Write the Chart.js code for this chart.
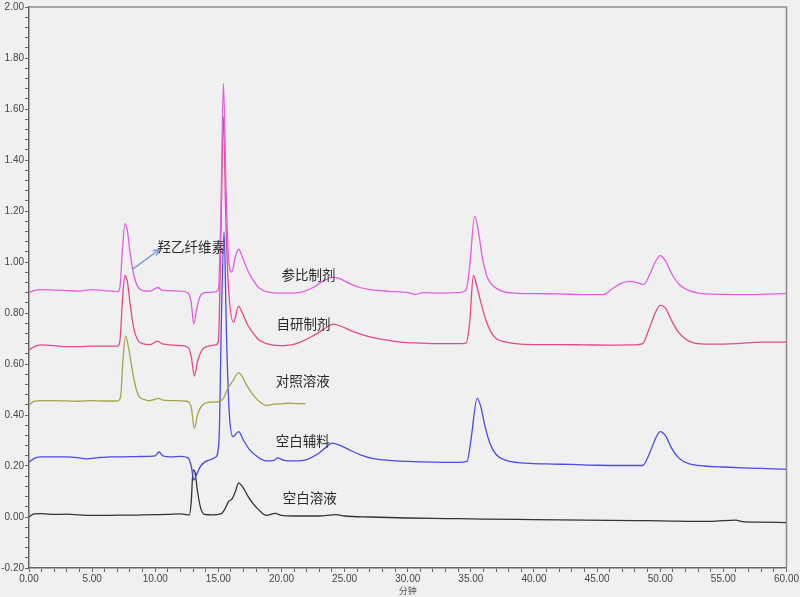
<!DOCTYPE html>
<html><head><meta charset="utf-8">
<script src="https://cdn.jsdelivr.net/npm/chart.js@4.4.1/dist/chart.umd.min.js"></script>
<style>html,body{margin:0;padding:0;background:#f0f0f0;} canvas{display:block;}</style>
</head><body>
<canvas id="c" width="800" height="597"></canvas>
<script>
// ---- data (minutes, response) ----
const seriesNames = ['参比制剂', '自研制剂', '对照溶液', '空白辅料', '空白溶液'];

const refT = [0,0.4,1,2,3,4,5,6,7,7.2,7.4,7.6,7.8,8.0,8.3,8.6,9.0,9.6,10.2,10.5,11,12,12.6,12.85,13.05,13.3,13.6,14,14.6,15.0,15.2,15.4,15.6,15.8,16.05,16.35,16.6,16.9,17.3,17.8,18.3,19,20,21,21.8,22.5,23.2,24.0,24.6,25.4,26.2,27,28.5,30,30.6,31.2,32.5,34,34.6,34.9,35.3,35.6,35.9,36.3,36.8,37.5,38.5,40,42,44,45.5,46.2,47.0,47.6,48.2,48.7,49.2,49.6,50.0,50.4,50.9,51.5,52.2,53,55,57,59,60];
const refV = [0.880,0.888,0.892,0.890,0.888,0.886,0.892,0.888,0.884,0.90,1.05,1.15,1.12,1.04,0.95,0.905,0.888,0.886,0.900,0.890,0.888,0.886,0.878,0.84,0.757,0.82,0.870,0.880,0.882,0.890,1.20,1.70,1.30,1.02,0.96,1.02,1.05,1.02,0.97,0.925,0.895,0.882,0.878,0.878,0.885,0.900,0.922,0.940,0.935,0.915,0.900,0.892,0.885,0.880,0.873,0.880,0.878,0.880,0.888,0.98,1.18,1.12,1.02,0.94,0.905,0.885,0.878,0.876,0.875,0.872,0.872,0.895,0.918,0.924,0.918,0.912,0.955,1.000,1.025,1.005,0.955,0.912,0.890,0.878,0.873,0.872,0.875,0.877];

const selfT = [0,0.5,1,2,3,4,5,6,7.0,7.2,7.4,7.6,7.8,8.0,8.3,8.6,9.0,9.6,10.2,10.5,11,12,12.6,12.85,13.1,13.35,13.7,14.2,14.8,15.0,15.2,15.4,15.6,15.8,16.2,16.6,16.9,17.3,17.7,18.2,18.8,19.9,20.8,21.5,22.3,23.0,23.6,24.1,24.7,25.4,26.2,27.0,28.2,29.4,31,32.6,34,34.6,34.9,35.2,35.5,35.8,36.2,36.6,37.0,37.6,38.5,40,42,44,46,48,48.6,49.1,49.6,50.0,50.4,50.9,51.4,52.0,52.7,54,56,58,60];
const selfV = [0.655,0.670,0.675,0.672,0.668,0.668,0.670,0.670,0.670,0.69,0.85,0.947,0.92,0.84,0.74,0.695,0.680,0.676,0.690,0.680,0.676,0.672,0.665,0.63,0.553,0.61,0.655,0.670,0.675,0.690,1.10,1.57,1.15,0.90,0.764,0.826,0.80,0.755,0.725,0.695,0.680,0.672,0.675,0.686,0.705,0.725,0.745,0.756,0.748,0.733,0.718,0.706,0.695,0.686,0.682,0.680,0.680,0.682,0.76,0.947,0.90,0.84,0.77,0.725,0.700,0.688,0.680,0.676,0.676,0.675,0.674,0.675,0.680,0.735,0.800,0.830,0.820,0.770,0.728,0.698,0.682,0.678,0.680,0.686,0.686];

const ctrlT = [0,0.4,1,2,3,4,5,6,7.0,7.25,7.45,7.65,7.9,8.2,8.5,8.75,9.2,9.5,10.3,10.6,11.5,12.5,12.85,13.1,13.35,13.75,14.3,15.0,15.4,15.7,16.1,16.6,16.9,17.2,17.6,18.0,18.4,18.8,19.3,19.9,20.5,21.2,21.9];
const ctrlV = [0.440,0.453,0.456,0.456,0.455,0.454,0.456,0.455,0.455,0.47,0.62,0.710,0.66,0.570,0.50,0.470,0.460,0.456,0.465,0.458,0.456,0.454,0.43,0.347,0.40,0.440,0.450,0.452,0.465,0.500,0.530,0.565,0.55,0.520,0.490,0.464,0.447,0.437,0.442,0.444,0.446,0.445,0.445];

const blankExT = [0,0.5,1,2,3,4,4.6,5.5,6.5,7.5,8.5,9.5,10.0,10.3,10.6,11.2,12.0,12.6,12.85,13.05,13.3,13.6,14.2,14.8,15.05,15.25,15.45,15.65,15.85,16.15,16.6,17.0,17.5,18.0,18.8,19.4,19.7,20.2,21,22,22.8,23.5,24.0,24.6,25.3,26.2,27.2,28.5,30,32,34,34.7,35.0,35.5,35.8,36.1,36.5,37.0,37.8,39,41,43,45,47,48.6,49.2,49.6,50.0,50.4,50.9,51.5,52.3,53.5,55,57,59,60];
const blankExV = [0.215,0.232,0.236,0.236,0.236,0.232,0.228,0.233,0.236,0.236,0.237,0.238,0.240,0.255,0.240,0.236,0.238,0.232,0.20,0.145,0.17,0.200,0.222,0.235,0.30,0.80,1.12,0.70,0.42,0.315,0.335,0.300,0.262,0.240,0.220,0.222,0.232,0.222,0.220,0.225,0.245,0.272,0.290,0.282,0.265,0.245,0.230,0.222,0.218,0.215,0.214,0.218,0.30,0.465,0.43,0.36,0.29,0.245,0.222,0.212,0.208,0.206,0.203,0.202,0.202,0.255,0.305,0.335,0.320,0.270,0.230,0.208,0.200,0.196,0.192,0.189,0.187];

const blankT = [0,0.4,1,2,3,4,5,6,7,8,9,10,11,12,12.7,12.85,13.0,13.15,13.35,13.6,13.9,14.5,15.2,15.5,15.8,16.1,16.35,16.6,16.9,17.3,17.7,18.2,18.8,19.5,20.0,21,22,23,24.3,25,27,30,33,36,40,44,48,50,54,56,56.5,58,60];
const blankV = [0.000,0.012,0.013,0.010,0.011,0.008,0.006,0.006,0.007,0.007,0.008,0.009,0.010,0.012,0.008,0.060,0.185,0.175,0.100,0.035,0.010,0.008,0.012,0.030,0.060,0.072,0.100,0.133,0.120,0.085,0.055,0.028,0.006,0.014,0.006,0.004,0.004,0.004,0.009,0.004,0.000,-0.004,-0.006,-0.008,-0.010,-0.012,-0.014,-0.015,-0.017,-0.012,-0.018,-0.020,-0.022];

const xMajorStep = 5, xMinorStep = 1, xMin = 0, xMax = 60;
const yMin = -0.2, yMax = 2.0, yMinorStep = 0.04, yMinorPerMajor = 5;

// ---- styles / annotations (not data) ----
const colors = ['#e45ce4', '#e3488a', '#a5a54c', '#4b4be3', '#333333'];
const annotations = [
  {text: '参比制剂', t: 20.0, v: 0.951},
  {text: '自研制剂', t: 19.6, v: 0.756},
  {text: '对照溶液', t: 19.55, v: 0.534},
  {text: '空白辅料', t: 19.55, v: 0.300},
  {text: '空白溶液', t: 20.1, v: 0.074},
  {text: '羟乙纤维素', t: 10.17, v: 1.060}
];
const arrow = {t0: 8.19, v0: 0.971, t1: 10.33, v1: 1.049};

function pts(T, V) { return T.map((t, i) => ({x: t, y: V[i]})); }
const seriesData = [pts(refT, refV), pts(selfT, selfV), pts(ctrlT, ctrlV), pts(blankExT, blankExV), pts(blankT, blankV)];

const datasets = seriesNames.map((n, i) => ({
  label: n, data: seriesData[i], borderColor: colors[i], borderWidth: 1.3,
  pointRadius: 0, fill: false, cubicInterpolationMode: 'monotone'
}));

const framePlugin = {
  id: 'frame',
  afterDraw(chart) {
    const {ctx, chartArea: a, scales} = chart;
    ctx.save();
    ctx.strokeStyle = '#8a8a8a'; ctx.lineWidth = 1.5;
    ctx.beginPath();
    ctx.moveTo(a.left, a.top); ctx.lineTo(a.right, a.top); ctx.lineTo(a.right, a.bottom);
    ctx.stroke();
    // labels
    ctx.fillStyle = '#2a2a2a';
    ctx.font = '13.5px "Noto Sans CJK SC"';
    ctx.textBaseline = 'middle'; ctx.textAlign = 'left';
    annotations.forEach(an => {
      ctx.fillText(an.text, scales.x.getPixelForValue(an.t), scales.y.getPixelForValue(an.v));
    });
    // arrow
    const x0 = scales.x.getPixelForValue(arrow.t0), y0 = scales.y.getPixelForValue(arrow.v0);
    const x1 = scales.x.getPixelForValue(arrow.t1), y1 = scales.y.getPixelForValue(arrow.v1);
    ctx.strokeStyle = '#7c9bd6'; ctx.lineWidth = 1.5;
    ctx.beginPath(); ctx.moveTo(x0, y0); ctx.lineTo(x1, y1); ctx.stroke();
    const ang = Math.atan2(y1 - y0, x1 - x0), L = 7;
    ctx.beginPath();
    ctx.moveTo(x1 - L * Math.cos(ang - 0.45), y1 - L * Math.sin(ang - 0.45));
    ctx.lineTo(x1, y1);
    ctx.lineTo(x1 - L * Math.cos(ang + 0.45), y1 - L * Math.sin(ang + 0.45));
    ctx.stroke();
    ctx.restore();
  }
};

new Chart(document.getElementById('c'), {
  type: 'line',
  data: {datasets},
  plugins: [framePlugin],
  options: {
    responsive: false, animation: false, devicePixelRatio: 1,
    layout: {padding: {top: 5, right: 13, left: 0, bottom: 0}},
    plugins: {legend: {display: false}, tooltip: {enabled: false}},
    scales: {
      x: {
        type: 'linear', min: xMin, max: xMax, position: 'bottom',
        afterBuildTicks: s => { const a = []; for (let v = xMin; v <= xMax; v += xMinorStep) a.push({value: v}); s.ticks = a; },
        afterFit: s => { s.height = 29; },
        ticks: {autoSkip: false, maxRotation: 0, padding: 1, color: '#444', font: {family: 'Liberation Sans', size: 10},
          callback: v => (Math.round(v) % xMajorStep === 0 ? Number(v).toFixed(2) : '')},
        grid: {drawOnChartArea: false, drawTicks: true, tickLength: 4, tickColor: '#666'},
        border: {color: '#666', width: 1.5},
        title: {display: true, text: '分钟', color: '#555', font: {family: 'Noto Sans CJK SC', size: 9}, padding: {top: 0, bottom: 1}}
      },
      y: {
        type: 'linear', min: yMin, max: yMax,
        afterBuildTicks: s => { const a = []; const n = Math.round((yMax - yMin) / yMinorStep); for (let i = 0; i <= n; i++) a.push({value: Math.round((yMin + i * yMinorStep) * 100) / 100}); s.ticks = a; },
        afterFit: s => { s.width = 29; },
        ticks: {autoSkip: false, padding: 1, color: '#444', font: {family: 'Liberation Sans', size: 10},
          callback: (v, i) => (i % yMinorPerMajor === 0 ? Number(v).toFixed(2) : '')},
        grid: {drawOnChartArea: false, drawTicks: true, tickLength: 4, tickColor: '#666'},
        border: {color: '#666', width: 1.5}
      }
    }
  }
});
</script>
</body></html>
